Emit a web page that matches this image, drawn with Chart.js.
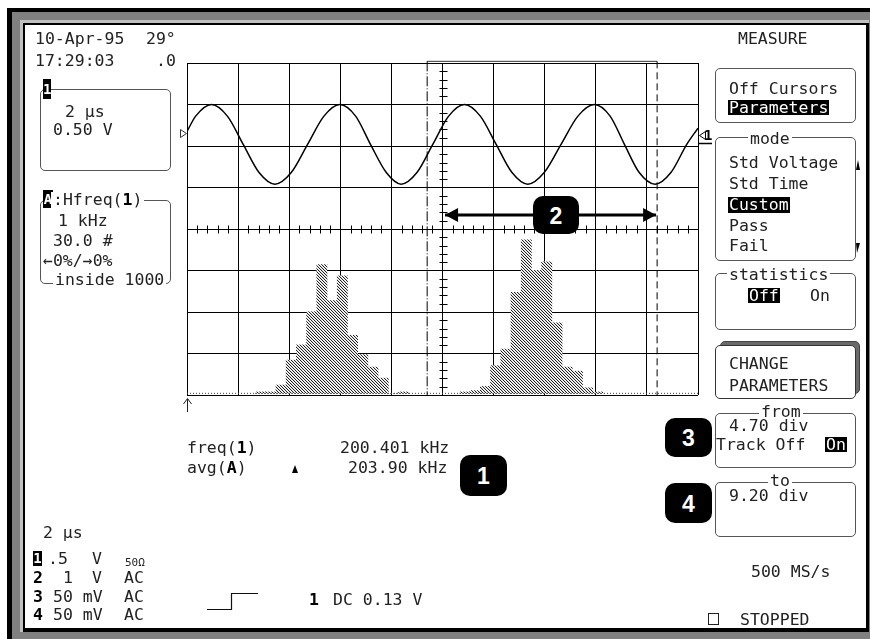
<!DOCTYPE html>
<html><head><meta charset="utf-8">
<script src="https://cdn.jsdelivr.net/npm/chart.js@4.4.1/dist/chart.umd.min.js"></script>
<style>
html,body{margin:0;padding:0;background:#fff;width:870px;height:639px;overflow:hidden;position:relative}
.f{position:absolute}
#f1{left:7px;top:8px;width:900px;height:700px;background:#000}
#f2{left:12px;top:12px;width:900px;height:700px;background:#808080}
#f3{left:20px;top:20px;width:849px;height:612px;background:#c0c0c0}
#f4{left:23px;top:23px;width:846px;height:609px;background:#000}
#f5{left:25px;top:25px;width:841px;height:603px;background:#fff}
#c{position:absolute;left:0;top:0}
.t{position:absolute;font-family:"DejaVu Sans Mono",monospace;font-size:16.5px;line-height:16px;white-space:pre;color:#222}
.b{font-weight:bold;color:#000}
.inv{background:#000;color:#fff;height:15px;padding:0 1px}
.w{background:#fff;padding:0 2px}
.box{position:absolute;box-sizing:border-box;border:1px solid #555;border-radius:5px;background:#fff}
.badge{position:absolute;background:#000;color:#fff;font-family:"Liberation Sans",Arial,sans-serif;font-weight:bold;font-size:23px;border-radius:10px;text-align:center}
.tag{position:absolute;background:#000;color:#fff;font-family:"DejaVu Sans Mono",monospace;font-weight:bold;font-size:14px;text-align:center}
svg{position:absolute;left:0;top:0}
</style></head><body>
<div class="f" id="f1"></div><div class="f" id="f2"></div><div class="f" id="f3"></div><div class="f" id="f4"></div><div class="f" id="f5"></div>

<div class="box" style="left:40px;top:89px;width:131px;height:82px"></div>
<div class="box" style="left:40px;top:200px;width:131px;height:84px"></div>
<div class="box" style="left:715px;top:68px;width:141px;height:55px"></div>
<div class="box" style="left:715px;top:137px;width:141px;height:124px"></div>
<div class="box" style="left:715px;top:273px;width:141px;height:57px"></div>
<div class="box" style="left:720px;top:341px;width:140px;height:53px;background:#6a6a6a;border-color:#444"></div>
<div class="box" style="left:715px;top:345px;width:141px;height:54px;border-color:#333"></div>
<div class="box" style="left:715px;top:413px;width:141px;height:55px"></div>
<div class="box" style="left:715px;top:482px;width:141px;height:55px"></div>

<canvas id="c" width="870" height="639"></canvas>

<svg width="870" height="639">
  <polygon points="180.5,129.5 186.5,133.5 180.5,137.5" fill="#fff" stroke="#333" stroke-width="1"/>
  <polygon points="705.5,131.5 699.5,135.5 705.5,139.5" fill="#fff" stroke="#000" stroke-width="1"/>
  <line x1="698" y1="143.5" x2="712" y2="143.5" stroke="#000" stroke-width="1.5"/>
  <line x1="187.5" y1="399" x2="187.5" y2="412" stroke="#222" stroke-width="1"/>
  <polyline points="183.5,404 187.5,398.5 191.5,404" fill="none" stroke="#222" stroke-width="1"/>
  <polygon points="292,473 295,465 298,473" fill="#000"/>
  <polyline points="207,609.5 231.5,609.5 231.5,593.5 258,593.5" fill="none" stroke="#111" stroke-width="1.2"/>
  <polygon points="856,170 858,160 860,170" fill="#000"/>
  <polygon points="856,243 860,243 857,253" fill="#000"/>
  <rect x="708.5" y="613.5" width="10" height="11" fill="none" stroke="#222" stroke-width="1"/>
</svg>

<!-- left panel -->
<div class="t" style="left:35px;top:31px">10-Apr-95</div>
<div class="t" style="left:146px;top:31px">29°</div>
<div class="t" style="left:35px;top:53px">17:29:03</div>
<div class="t" style="left:156px;top:53px">.0</div>
<div class="tag" style="left:43px;top:79px;width:8px;height:20px;line-height:20px">1</div>
<div class="t" style="left:65px;top:104px">2 μs</div>
<div class="t" style="left:53px;top:122px">0.50 V</div>
<div class="tag" style="left:43px;top:190px;width:10px;height:18px;line-height:18px">A</div>
<div class="t w" style="left:51px;top:192px">:Hfreq(<span class="b">1</span>)</div>
<div class="t" style="left:58px;top:213px">1 kHz</div>
<div class="t" style="left:53px;top:233px">30.0 #</div>
<div class="t" style="left:43px;top:253px">←0%/→0%</div>
<div class="t w" style="left:53px;top:272px">inside 1000</div>

<!-- grid markers -->
<div class="t b" style="left:704px;top:127px;font-size:14px">1</div>

<!-- readouts -->
<div class="t" style="left:187px;top:440px">freq(<span class="b">1</span>)</div>
<div class="t" style="left:340px;top:440px">200.401 kHz</div>
<div class="t" style="left:187px;top:460px">avg(<span class="b">A</span>)</div>
<div class="t" style="left:348px;top:460px">203.90 kHz</div>

<!-- bottom left -->
<div class="t" style="left:43px;top:525px">2 μs</div>
<div class="tag" style="left:33px;top:551px;width:9px;height:15px;line-height:15px">1</div>
<div class="t" style="left:48px;top:551px">.5</div>
<div class="t" style="left:92px;top:551px">V</div>
<div class="t" style="left:125px;top:555px;font-size:11px">50Ω</div>
<div class="t b" style="left:33px;top:570px">2</div>
<div class="t" style="left:63px;top:570px">1</div>
<div class="t" style="left:92px;top:570px">V</div>
<div class="t" style="left:124px;top:570px">AC</div>
<div class="t b" style="left:33px;top:589px">3</div>
<div class="t" style="left:53px;top:589px">50 mV</div>
<div class="t" style="left:124px;top:589px">AC</div>
<div class="t b" style="left:33px;top:607px">4</div>
<div class="t" style="left:53px;top:607px">50 mV</div>
<div class="t" style="left:124px;top:607px">AC</div>
<div class="t b" style="left:309px;top:592px">1</div>
<div class="t" style="left:333px;top:592px">DC 0.13 V</div>

<!-- right panel -->
<div class="t" style="left:738px;top:31px">MEASURE</div>
<div class="t" style="left:729px;top:81px">Off Cursors</div>
<div class="t inv" style="left:728px;top:100px">Parameters</div>
<div class="t w" style="left:748px;top:131px;height:12px">mode</div>
<div class="t" style="left:729px;top:155px">Std Voltage</div>
<div class="t" style="left:729px;top:176px">Std Time</div>
<div class="t inv" style="left:728px;top:197px;height:16px">Custom</div>
<div class="t" style="left:729px;top:218px">Pass</div>
<div class="t" style="left:729px;top:238px">Fail</div>
<div class="t w" style="left:727px;top:267px;height:12px">statistics</div>
<div class="t inv" style="left:748px;top:288px">Off</div>
<div class="t" style="left:810px;top:288px">On</div>
<div class="t" style="left:729px;top:356px">CHANGE</div>
<div class="t" style="left:729px;top:378px">PARAMETERS</div>
<div class="t w" style="left:759px;top:404px;height:12px">from</div>
<div class="t" style="left:729px;top:418px">4.70 div</div>
<div class="t" style="left:716px;top:437px">Track Off</div>
<div class="t inv" style="left:825px;top:437px">On</div>
<div class="t w" style="left:768px;top:473px;height:12px">to</div>
<div class="t" style="left:729px;top:488px">9.20 div</div>
<div class="t" style="left:751px;top:564px">500 MS/s</div>
<div class="t" style="left:740px;top:612px">STOPPED</div>

<div class="badge" style="left:460px;top:455px;width:47px;height:41px;line-height:43px">1</div>
<div class="badge" style="left:533px;top:196px;width:46px;height:38px;line-height:40px">2</div>
<div class="badge" style="left:665px;top:418px;width:47px;height:39px;line-height:41px">3</div>
<div class="badge" style="left:665px;top:483px;width:47px;height:40px;line-height:42px">4</div>

<script>
// ---- data (horizontal in divisions, 0..10; vertical in divisions, -4..4) ----
const waveX = [0.00,0.17,0.48,0.79,1.10,1.41,1.72,2.04,2.36,2.68,2.99,3.30,3.59,3.90,4.19,4.50,4.81,5.12,5.43,5.74,6.05,6.36,6.67,6.99,7.32,7.65,7.97,8.28,8.56,8.85,9.16,9.47,9.78,10.00];
const waveY = [2.35,2.72,3.00,2.72,2.04,1.36,1.08,1.36,2.04,2.72,3.00,2.72,2.04,1.36,1.08,1.36,2.04,2.72,3.00,2.72,2.04,1.36,1.08,1.36,2.04,2.72,3.00,2.72,2.04,1.36,1.08,1.36,2.04,2.43];
// histogram bins (bin centre in divisions) and event counts (30 events / div)
const histBins = [1.44,1.64,1.84,2.04,2.24,2.44,2.64,2.84,3.04,3.24,3.44,3.64,3.84,4.04,4.24,
                  5.44,5.64,5.84,6.04,6.24,6.44,6.64,6.84,7.04,7.24,7.44,7.64,7.84,8.04];
const histCounts = [1,1,6,24,35,59,93,67,85,42,28,19,11,0,1,
                    1,2,5,20,32,73,111,89,95,51,19,16,4,1];
const cursorFrom = 4.70;   // div
const cursorTo = 9.20;     // div
const arrowSpan = [5.05, 9.18];
const arrowLevel = 0.34;

function hatchPattern(){
  const c = document.createElement('canvas'); c.width = 3; c.height = 3;
  const g = c.getContext('2d');
  g.fillStyle = '#fff'; g.fillRect(0,0,3,3);
  for (let i=0;i<3;i++){ g.fillStyle='#222'; g.fillRect(i,i,1,1); g.fillStyle='#ddd'; g.fillRect((i+1)%3,i,1,1); }
  return g.createPattern(c,'repeat');
}

const overlay = {
  id:'overlay',
  beforeDatasetsDraw(chart){
    const {ctx, scales:{x, y}} = chart;
    ctx.save(); ctx.strokeStyle = '#000'; ctx.lineWidth = 1;
    const cx = Math.round(x.getPixelForValue(5)) + 0.5, cy = Math.round(y.getPixelForValue(0)) + 0.5;
    ctx.beginPath();
    for (let k=1;k<50;k++){ if (k%5===0) continue; const px = Math.round(x.getPixelForValue(k*0.2))+0.5; ctx.moveTo(px, cy-4); ctx.lineTo(px, cy+4); }
    for (let k=-19;k<20;k++){ if (k%5===0) continue; const py = Math.round(y.getPixelForValue(k*0.2))+0.5; ctx.moveTo(cx-4, py); ctx.lineTo(cx+4, py); }
    ctx.stroke(); ctx.restore();
  },
  afterDatasetsDraw(chart){
    const ctx = chart.ctx;
    chart.data.datasets.forEach((ds, i) => {
      if (!ds.arrow) return;
      const pts = chart.getDatasetMeta(i).data;
      const a = pts[0], b = pts[pts.length-1];
      ctx.save(); ctx.fillStyle = '#000';
      ctx.beginPath(); ctx.moveTo(a.x, a.y); ctx.lineTo(a.x+13, a.y-7); ctx.lineTo(a.x+13, a.y+7); ctx.closePath(); ctx.fill();
      ctx.beginPath(); ctx.moveTo(b.x, b.y); ctx.lineTo(b.x-13, b.y-7); ctx.lineTo(b.x-13, b.y+7); ctx.closePath(); ctx.fill();
      ctx.restore();
    });
  }
};

const cv = document.getElementById('c');
new Chart(cv, {
  type: 'bar',
  data: { datasets: [
    { type:'bar', label:'Hfreq(1)', yAxisID:'yh', data: histBins.map((b,i)=>({x:b, y:histCounts[i]})),
      backgroundColor: hatchPattern(), borderWidth:0, barPercentage:1, categoryPercentage:1, order:6 },
    { type:'line', label:'hist base', yAxisID:'yh', data:[{x:0,y:0},{x:10,y:0}], borderColor:'#444', borderWidth:1,
      borderDash:[1,2], pointRadius:0, order:5 },
    { type:'line', label:'C1', data: waveX.map((v,i)=>({x:v, y:waveY[i]})), borderColor:'#000', borderWidth:1.5,
      pointRadius:0, cubicInterpolationMode:'monotone', order:4 },
    { type:'line', label:'from', data:[{x:cursorFrom,y:4.04},{x:cursorFrom,y:-4}], borderColor:'#000', borderWidth:1,
      borderDash:[10,2,1,2], pointRadius:0, clip:false, order:3 },
    { type:'line', label:'to', data:[{x:cursorTo,y:4.04},{x:cursorTo,y:-4}], borderColor:'#000', borderWidth:1,
      borderDash:[7,4], pointRadius:0, clip:false, order:3 },
    { type:'line', label:'bracket', data:[{x:cursorFrom,y:4.04},{x:cursorTo,y:4.04}], borderColor:'#333', borderWidth:1,
      pointRadius:0, clip:false, order:3 },
    { type:'line', label:'delta', arrow:true, data:[{x:arrowSpan[0],y:arrowLevel},{x:arrowSpan[1],y:arrowLevel}],
      borderColor:'#000', borderWidth:3, pointRadius:0, order:2 }
  ]},
  options: {
    responsive:false, animation:false, devicePixelRatio:1,
    layout:{ padding:{ left:187, top:63, right:172, bottom:244 } },
    plugins:{ legend:{display:false}, tooltip:{enabled:false} },
    scales:{
      x:{ type:'linear', min:0, max:10, offset:false, ticks:{display:false, stepSize:1}, grid:{offset:false, color:'#000', drawTicks:false, lineWidth:1}, border:{display:false} },
      y:{ type:'linear', min:-4, max:4, ticks:{display:false, stepSize:1}, grid:{color:'#000', drawTicks:false, lineWidth:1}, border:{display:false} },
      yh:{ type:'linear', display:false, min:-1.2, max:238.8 }
    }
  },
  plugins:[overlay]
});
</script>
</body></html>
